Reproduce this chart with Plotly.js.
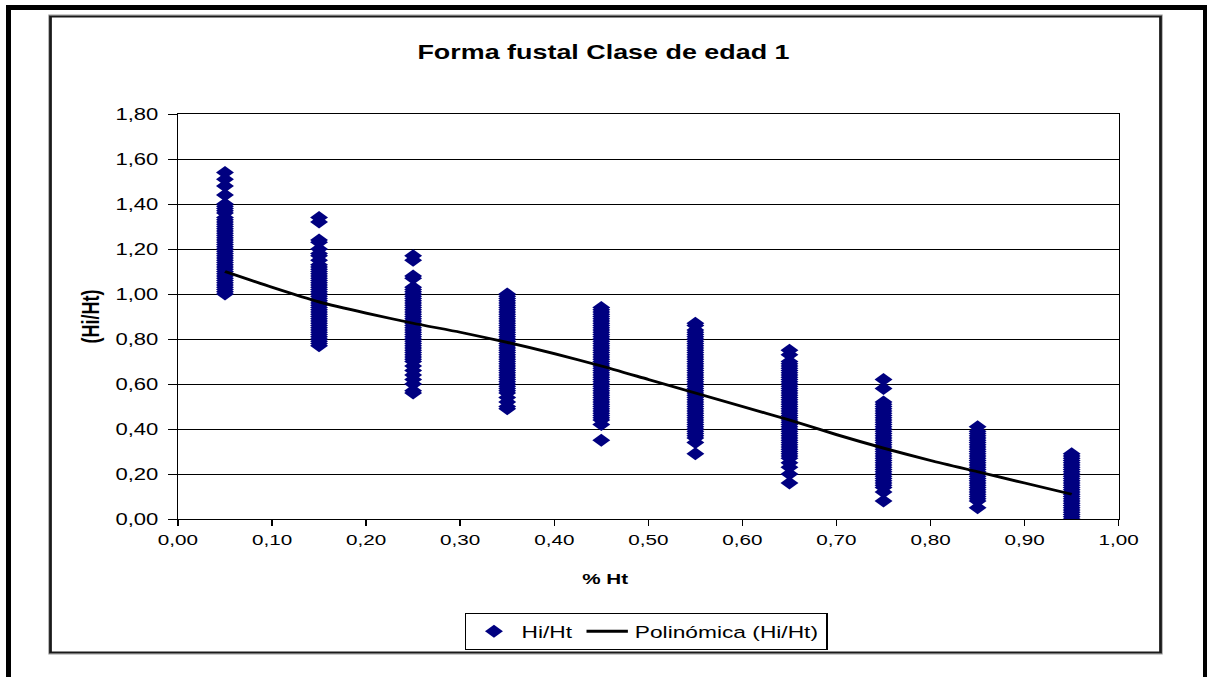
<!DOCTYPE html>
<html>
<head>
<meta charset="utf-8">
<script src="https://cdn.plot.ly/plotly-3.0.1.min.js"></script>
<style>
html,body{margin:0;padding:0;background:#fff;overflow:hidden;}
#wrap{width:1207px;height:677px;overflow:hidden;position:relative;}
#chart{width:875px;height:677px;transform:scaleX(1.37943);transform-origin:0 0;}
</style>
</head>
<body>
<div id="wrap"><div id="chart"></div></div>
<script>
// ---- data ----
const classX = [0.05, 0.15, 0.25, 0.35, 0.45, 0.55, 0.65, 0.75, 0.85, 0.95];

const hiHt05 = [1.54, 1.51, 1.48, 1.44, 1.40, 1.39, 1.38, 1.37, 1.36, 1.34, 1.33, 1.32, 1.31, 1.30, 1.29, 1.28, 1.27, 1.26, 1.25, 1.24, 1.23, 1.22, 1.21, 1.20, 1.19, 1.18, 1.17, 1.16, 1.15, 1.14, 1.13, 1.12, 1.11, 1.10, 1.09, 1.08, 1.07, 1.06, 1.05, 1.04, 1.03, 1.02, 1.01, 1.00];
const hiHt15 = [1.34, 1.32, 1.24, 1.23, 1.20, 1.18, 1.17, 1.15, 1.13, 1.12, 1.11, 1.10, 1.09, 1.08, 1.07, 1.06, 1.05, 1.04, 1.03, 1.02, 1.01, 1.00, 0.99, 0.98, 0.97, 0.96, 0.95, 0.94, 0.93, 0.92, 0.91, 0.90, 0.89, 0.88, 0.87, 0.86, 0.85, 0.84, 0.83, 0.82, 0.81, 0.80, 0.79, 0.78, 0.77];
const hiHt25 = [1.17, 1.15, 1.08, 1.07, 1.03, 1.02, 1.01, 1.00, 0.99, 0.98, 0.97, 0.96, 0.95, 0.94, 0.93, 0.92, 0.91, 0.90, 0.89, 0.88, 0.87, 0.86, 0.85, 0.84, 0.83, 0.82, 0.81, 0.80, 0.79, 0.78, 0.77, 0.76, 0.75, 0.74, 0.73, 0.72, 0.71, 0.70, 0.68, 0.66, 0.64, 0.62, 0.60, 0.57, 0.56];
const hiHt35 = [1.00, 0.99, 0.98, 0.97, 0.96, 0.95, 0.94, 0.93, 0.92, 0.91, 0.90, 0.89, 0.88, 0.87, 0.86, 0.85, 0.84, 0.83, 0.82, 0.81, 0.80, 0.79, 0.78, 0.77, 0.76, 0.75, 0.74, 0.73, 0.72, 0.71, 0.70, 0.69, 0.68, 0.67, 0.66, 0.65, 0.64, 0.63, 0.62, 0.61, 0.60, 0.59, 0.58, 0.57, 0.56, 0.54, 0.52, 0.50, 0.49];
const hiHt45 = [0.94, 0.93, 0.92, 0.91, 0.90, 0.89, 0.88, 0.87, 0.86, 0.85, 0.84, 0.83, 0.82, 0.81, 0.80, 0.79, 0.78, 0.77, 0.76, 0.75, 0.74, 0.73, 0.72, 0.71, 0.70, 0.69, 0.68, 0.67, 0.66, 0.65, 0.64, 0.63, 0.62, 0.61, 0.60, 0.59, 0.58, 0.57, 0.56, 0.55, 0.54, 0.53, 0.52, 0.51, 0.50, 0.49, 0.48, 0.47, 0.46, 0.45, 0.44, 0.42, 0.35];
const hiHt55 = [0.87, 0.86, 0.84, 0.83, 0.82, 0.81, 0.80, 0.79, 0.78, 0.77, 0.76, 0.75, 0.74, 0.73, 0.72, 0.71, 0.70, 0.69, 0.68, 0.67, 0.66, 0.65, 0.64, 0.63, 0.62, 0.61, 0.60, 0.59, 0.58, 0.57, 0.56, 0.55, 0.54, 0.53, 0.52, 0.51, 0.50, 0.49, 0.48, 0.47, 0.46, 0.45, 0.44, 0.43, 0.42, 0.41, 0.40, 0.39, 0.38, 0.37, 0.36, 0.34, 0.29];
const hiHt65 = [0.75, 0.73, 0.70, 0.69, 0.68, 0.67, 0.66, 0.65, 0.64, 0.63, 0.62, 0.61, 0.60, 0.59, 0.58, 0.57, 0.56, 0.55, 0.54, 0.53, 0.52, 0.51, 0.50, 0.49, 0.48, 0.47, 0.46, 0.45, 0.44, 0.43, 0.42, 0.41, 0.40, 0.39, 0.38, 0.37, 0.36, 0.35, 0.34, 0.33, 0.32, 0.31, 0.30, 0.29, 0.28, 0.27, 0.25, 0.23, 0.20, 0.16];
const hiHt75 = [0.62, 0.58, 0.52, 0.51, 0.50, 0.49, 0.48, 0.47, 0.46, 0.45, 0.44, 0.43, 0.42, 0.41, 0.40, 0.39, 0.38, 0.37, 0.36, 0.35, 0.34, 0.33, 0.32, 0.31, 0.30, 0.29, 0.28, 0.27, 0.26, 0.25, 0.24, 0.23, 0.22, 0.21, 0.20, 0.19, 0.18, 0.17, 0.16, 0.15, 0.14, 0.12, 0.08];
const hiHt85 = [0.41, 0.39, 0.38, 0.37, 0.36, 0.35, 0.34, 0.33, 0.32, 0.31, 0.30, 0.29, 0.28, 0.27, 0.26, 0.25, 0.24, 0.23, 0.22, 0.21, 0.20, 0.19, 0.18, 0.17, 0.16, 0.15, 0.14, 0.13, 0.12, 0.11, 0.10, 0.09, 0.08, 0.05];
const hiHt95 = [0.29, 0.28, 0.27, 0.26, 0.25, 0.24, 0.23, 0.22, 0.21, 0.20, 0.19, 0.18, 0.17, 0.16, 0.15, 0.14, 0.13, 0.12, 0.11, 0.10, 0.09, 0.08, 0.07, 0.06, 0.05, 0.04, 0.03, 0.02, 0.01, 0.00];

const trendX = [0.05, 0.10, 0.15, 0.20, 0.25, 0.30, 0.35, 0.40, 0.45, 0.50, 0.55, 0.60, 0.65, 0.70, 0.75, 0.80, 0.85, 0.90, 0.95];
const trendY = [1.10, 1.03, 0.965, 0.915, 0.87, 0.83, 0.785, 0.735, 0.68, 0.62, 0.56, 0.50, 0.44, 0.375, 0.315, 0.26, 0.21, 0.16, 0.11];

const xTickVals = [0, 0.1, 0.2, 0.3, 0.4, 0.5, 0.6, 0.7, 0.8, 0.9, 1.0];
const yTickVals = [0, 0.2, 0.4, 0.6, 0.8, 1.0, 1.2, 1.4, 1.6, 1.8];

const chartTitle = 'Forma fustal Clase de edad 1';
const xTitle = '% Ht';
const yTitle = '(Hi/Ht)';
const seriesName = 'Hi/Ht';
const trendName = 'Polinómica (Hi/Ht)';

// ---- build scatter from the columns ----
const columns = [hiHt05, hiHt15, hiHt25, hiHt35, hiHt45, hiHt55, hiHt65, hiHt75, hiHt85, hiHt95];
const sx = [], sy = [];
columns.forEach((col, i) => col.forEach(v => { sx.push(classX[i]); sy.push(v); }));

// ---- geometry (pre-scale coordinates) ----
const S = 1207 / 875;
const M = {l: 129, r: 64, t: 114, b: 158};
const PW = 875 - M.l - M.r, PH = 677 - M.t - M.b;
const fx = px => (px / S - M.l) / PW;
const fy = py => (M.t + PH - py) / PH;

const FONT = 'Liberation Sans, Arial, sans-serif';

const shapes = [
  // outer thick frame (left, top, right)
  {type:'rect', xref:'paper', yref:'paper', x0:fx(6), x1:fx(11), y0:fy(5), y1:fy(690), fillcolor:'#000', line:{width:0}},
  {type:'rect', xref:'paper', yref:'paper', x0:fx(6), x1:fx(1212), y0:fy(5), y1:fy(10), fillcolor:'#000', line:{width:0}},
  {type:'rect', xref:'paper', yref:'paper', x0:fx(1203), x1:fx(1212), y0:fy(5), y1:fy(690), fillcolor:'#000', line:{width:0}},
  // inner chart-area border
  {type:'rect', xref:'paper', yref:'paper', x0:fx(49), x1:fx(1162), y0:fy(15), y1:fy(654), fillcolor:'rgba(0,0,0,0)', line:{color:'#9a9a9a', width:1}},
  {type:'rect', xref:'paper', yref:'paper', x0:fx(50.5), x1:fx(1160.5), y0:fy(16.5), y1:fy(652.5), fillcolor:'rgba(0,0,0,0)', line:{color:'#1a1a1a', width:2}}
];

const data = [
  {
    type:'scatter', mode:'markers', name:seriesName, x:sx, y:sy,
    marker:{symbol:'diamond', size:10, color:'#000080', line:{width:0}},
    hoverinfo:'skip'
  },
  {
    type:'scatter', mode:'lines', name:trendName, x:trendX, y:trendY,
    line:{color:'#000', width:2.8, shape:'spline', smoothing:0.6},
    hoverinfo:'skip'
  }
];

const layout = {
  width:875, height:677,
  margin:M,
  paper_bgcolor:'#fff', plot_bgcolor:'#fff',
  separators:',.',
  font:{family:FONT, color:'#000', size:15},
  title:{text:'<b>'+chartTitle+'</b>', font:{family:FONT, size:19.5, color:'#000'},
         xref:'container', yref:'container', x:0.5, xanchor:'center', y:1-52/677, yanchor:'middle'},
  xaxis:{
    range:[0,1], tickvals:xTickVals, tickformat:'.2f',
    ticks:'outside', ticklen:6, tickwidth:1, tickcolor:'#000',
    showline:true, linecolor:'#000', linewidth:1, mirror:true,
    showgrid:false, zeroline:false,
    tickfont:{family:FONT, size:15, color:'#000'},
    ticklabelstandoff:1
  },
  yaxis:{
    range:[0,1.8], tickvals:yTickVals, tickformat:'.2f',
    ticks:'outside', ticklen:6, tickwidth:1, tickcolor:'#000',
    showline:true, linecolor:'#000', linewidth:1, mirror:true,
    showgrid:true, gridcolor:'#000', gridwidth:1, zeroline:false,
    tickfont:{family:FONT, size:16, color:'#000'},
    ticklabelstandoff:4,
    title:{text:'<b>'+yTitle+'</b>', font:{family:FONT, size:18, color:'#000'}, standoff:6}
  },
  annotations:[
    {xref:'paper', yref:'paper', x:fx(605), y:fy(578), xanchor:'center', yanchor:'middle',
     text:'<b>'+xTitle+'</b>', showarrow:false, font:{family:FONT, size:15, color:'#000'}}
  ],
  showlegend:true,
  legend:{
    orientation:'h', xref:'paper', yref:'paper',
    x:fx(465), xanchor:'left', y:fy(613), yanchor:'top',
    bordercolor:'#000', borderwidth:1, bgcolor:'#fff',
    font:{family:FONT, size:16.5, color:'#000'},
    itemwidth:30, tracegroupgap:0
  },
  shapes:shapes
};

Plotly.newPlot('chart', data, layout, {displayModeBar:false, staticPlot:true});
</script>
</body>
</html>
